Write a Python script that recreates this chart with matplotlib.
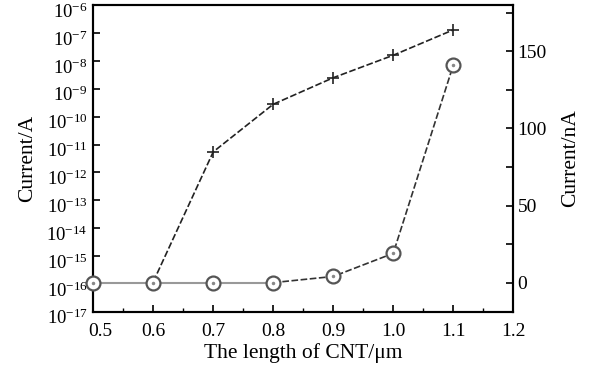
import matplotlib
matplotlib.use('Agg')
import matplotlib.pyplot as plt
import matplotlib.transforms as mtransforms
from matplotlib.ticker import LogLocator, MultipleLocator, NullLocator

plt.rcParams['font.family'] = 'Liberation Serif'
plt.rcParams['mathtext.fontset'] = 'custom'
plt.rcParams['mathtext.rm'] = 'Liberation Serif'
plt.rcParams['mathtext.it'] = 'Liberation Serif:italic'

# data
length = [0.6, 0.7, 0.8, 0.9, 1.0, 1.1]
current_A = [1.2e-16, 5.5e-12, 2.8e-10, 2.5e-9, 1.6e-8, 1.3e-7]

length_nA = [0.5, 0.6, 0.7, 0.8, 0.9, 1.0, 1.1]
current_nA = [0, 0, 0, 0, 4, 19, 141]

x_ticks = [0.5, 0.6, 0.7, 0.8, 0.9, 1.0, 1.1, 1.2]

fig = plt.figure(figsize=(5.94, 3.70), dpi=100)
ax = fig.add_axes([0.157, 0.157, 0.707, 0.829])
ax2 = ax.twinx()

ax.plot(length, current_A, color='#222222', linestyle=(0, (4, 1.5)), linewidth=1.2,
        marker='+', markersize=9, markeredgewidth=1.2, zorder=3)
ax.set_yscale('log')
ax.set_ylim(1e-17, 1e-6)

# circles: flat part solid grey, rising part dashed
ax2.plot(length_nA[:4], current_nA[:4], color='#999999', linewidth=1.5, zorder=2)
ax2.plot(length_nA[3:], current_nA[3:], color='#333333', linestyle=(0, (4, 1.5)), linewidth=1.2, zorder=2)
ax2.plot(length_nA, current_nA, linestyle='none', marker='o', markersize=10,
         markerfacecolor='white', markeredgecolor='#555555', markeredgewidth=1.6,
         zorder=4, clip_on=False)
ax2.plot(length_nA, current_nA, linestyle='none', marker='.', markersize=3,
         color='#888888', zorder=5, clip_on=False)
ax2.set_ylim(-19, 180)

ax.yaxis.set_major_locator(LogLocator(base=10, numticks=20))
ax.yaxis.set_minor_locator(NullLocator())
ax.set_xticks(x_ticks)
ax.set_xticklabels([f'{v:.1f}' for v in x_ticks])
ax.xaxis.set_minor_locator(MultipleLocator(0.05))
ax.set_xlim(0.5, 1.2)
ax2.yaxis.set_major_locator(MultipleLocator(50))
ax2.yaxis.set_minor_locator(MultipleLocator(25))

ax.tick_params(axis='x', which='major', direction='in', length=5, width=1.2, labelsize=14, pad=8)
ax.tick_params(axis='x', which='minor', direction='in', length=3, width=1.0)
ax.tick_params(axis='y', which='major', direction='in', length=5, width=1.2, labelsize=13.5, pad=4)
ax2.tick_params(axis='y', which='major', direction='in', length=5, width=1.2, labelsize=14, pad=3)
ax2.tick_params(axis='y', which='minor', direction='in', length=5, width=1.2)

# the log labels sit a little below their ticks in the reference
shift = mtransforms.ScaledTranslation(0, -3.5 / 72, fig.dpi_scale_trans)
for lbl in ax.get_yticklabels():
    lbl.set_transform(lbl.get_transform() + shift)
# first x label is nudged right, clear of the 10^-17 label
first = ax.get_xticklabels()[0]
first.set_transform(first.get_transform() + mtransforms.ScaledTranslation(5 / 72, 0, fig.dpi_scale_trans))

for a in (ax, ax2):
    for s in a.spines.values():
        s.set_linewidth(1.5)

ax.set_xlabel('The length of CNT/μm', fontsize=15.5, labelpad=2)
ax.set_ylabel('Current/A', fontsize=15.5, labelpad=7)
ax2.set_ylabel('Current/nA', fontsize=15.5, labelpad=10)

plt.savefig('out.png', dpi=100)
